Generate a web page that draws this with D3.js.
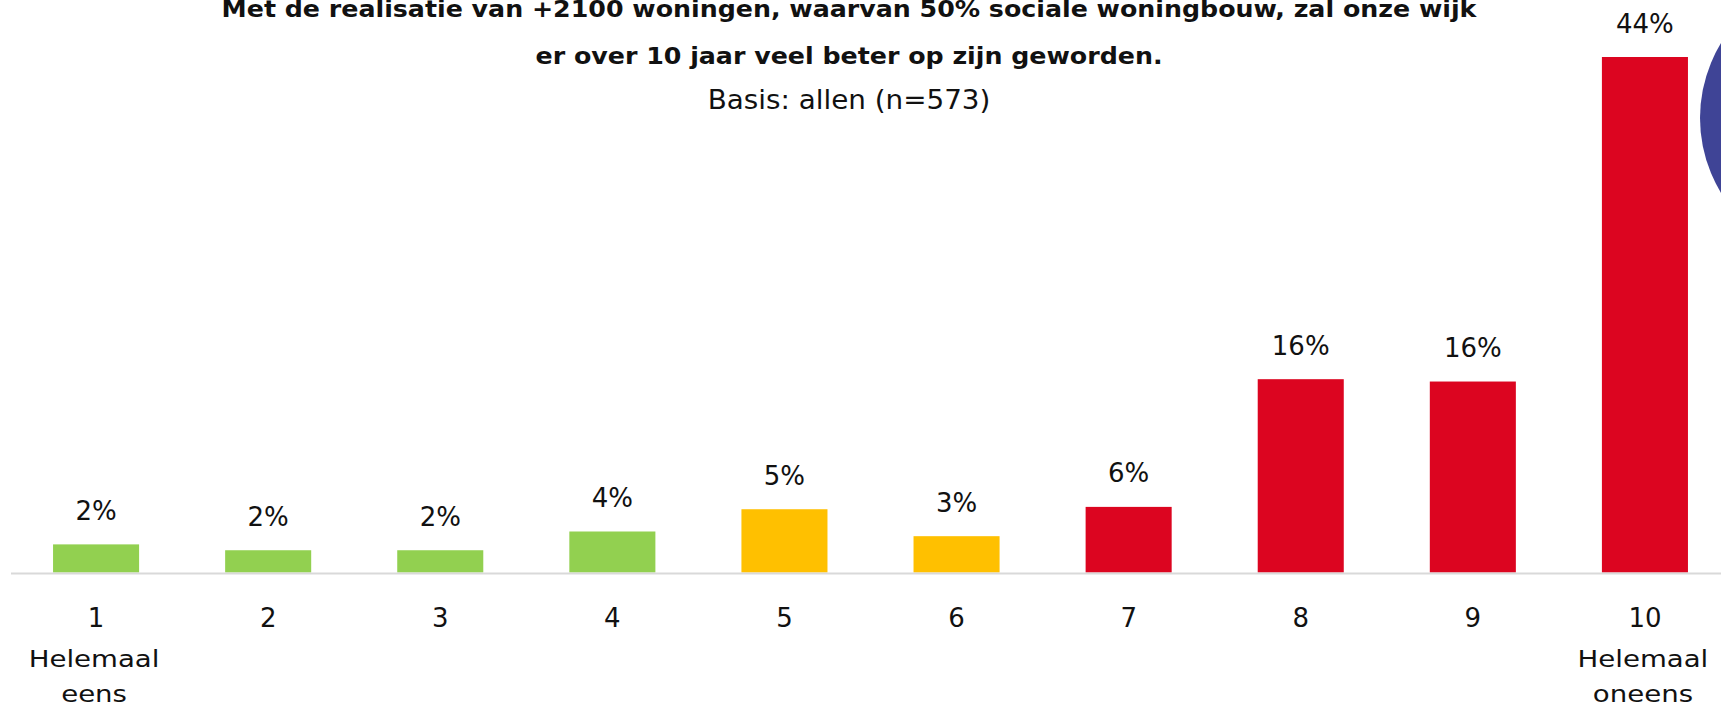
<!DOCTYPE html>
<html>
<head>
<meta charset="utf-8">
<script src="https://cdn.jsdelivr.net/npm/d3@7"></script>
<style>
	html, body { margin: 0; padding: 0; background: #fff; }
	#root { width: 1721px; height: 714px; overflow: hidden; }
	text { font-family: "DejaVu Sans", sans-serif; fill: #111; }
</style>
</head>
<body>
<div id="root"></div>
<script>
const categories = ["1", "2", "3", "4", "5", "6", "7", "8", "9", "10"];
const subLabels = [["Helemaal", "eens"], [], [], [], [], [], [], [], [], ["Helemaal", "oneens"]];
const groups = ["eens", "eens", "eens", "eens", "neutraal", "neutraal", "oneens", "oneens", "oneens", "oneens"];
const values = [2.4, 1.9, 1.9, 3.5, 5.4, 3.1, 5.6, 16.5, 16.3, 44.0];
const valueLabels = ["2%", "2%", "2%", "4%", "5%", "3%", "6%", "16%", "16%", "44%"];
const titleLines = [
	"Met de realisatie van +2100 woningen, waarvan 50% sociale woningbouw, zal onze wijk",
	"er over 10 jaar veel beter op zijn geworden."
];
const subtitle = "Basis: allen (n=573)";

const width = 1721, height = 714;
const baseY = 572.5;
const centerX = 849;

const color = d3.scaleOrdinal()
	.domain(["eens", "neutraal", "oneens"])
	.range(["#92d050", "#ffc000", "#dc0520"]);

const x = d3.scaleBand()
	.domain(categories)
	.range([-33, 1774])
	.padding(0.5);

const y = d3.scaleLinear()
	.domain([0, 44])
	.range([baseY, 57]);

const svg = d3.select("#root")
	.append("svg")
		.attr("width", width)
		.attr("height", height);

// decoratieve cirkel rechtsboven
svg.append("circle")
	.attr("cx", 1844).attr("cy", 118).attr("r", 144)
	.style("fill", "#3f4496");

// titel (het origineel is iets breder uitgerekt)
svg.selectAll(".title")
	.data(titleLines)
	.enter()
	.append("text")
		.attr("class", "title")
		.attr("transform", (d, i) => `translate(${ centerX }, ${ 17 + i * 47 }) scale(1.1, 1)`)
		.attr("text-anchor", "middle")
		.style("font-weight", "bold")
		.style("font-size", "23px")
		.text(d => d);

svg.append("text")
	.attr("transform", `translate(${ centerX }, 108.5) scale(1.07, 1)`)
	.attr("text-anchor", "middle")
	.style("font-size", "26px")
	.text(subtitle);

// bars
const data = categories.map((c, i) => ({ cat: c, value: values[i], label: valueLabels[i], group: groups[i] }));

svg.selectAll(".bar")
	.data(data)
	.enter()
	.append("rect")
		.attr("class", "bar")
		.attr("x", d => x(d.cat))
		.attr("y", d => y(d.value))
		.attr("width", x.bandwidth())
		.attr("height", d => baseY - y(d.value))
		.style("fill", d => color(d.group));

svg.selectAll(".value")
	.data(data)
	.enter()
	.append("text")
		.attr("class", "value")
		.attr("x", d => x(d.cat) + x.bandwidth() / 2)
		.attr("y", d => y(d.value) - 24.5)
		.attr("text-anchor", "middle")
		.style("font-size", "26px")
		.text(d => d.label);

// basislijn
svg.append("line")
	.attr("x1", 11).attr("x2", width)
	.attr("y1", baseY + 1).attr("y2", baseY + 1)
	.style("stroke", "#d9d9d9")
	.style("stroke-width", 2);

// x-as
const axis = svg.append("g")
	.attr("transform", `translate(0, ${ baseY })`)
	.call(d3.axisBottom(x).tickSize(0));

axis.select(".domain").remove();

axis.selectAll(".tick text")
	.attr("y", 54.5)
	.attr("dy", 0)
	.style("font-family", "DejaVu Sans")
	.style("font-size", "26px")
	.style("fill", "#111");

axis.selectAll(".tick")
	.each(function (d, i) {
		d3.select(this)
			.selectAll(".sub")
			.data(subLabels[i])
			.enter()
			.append("text")
				.attr("class", "sub")
				.attr("transform", (s, j) => `translate(-2, ${ 94.5 + j * 34.5 }) scale(1.2, 1)`)
				.attr("text-anchor", "middle")
				.style("font-family", "DejaVu Sans")
				.style("font-size", "23px")
				.style("fill", "#111")
				.text(s => s);
	});
</script>
</body>
</html>
